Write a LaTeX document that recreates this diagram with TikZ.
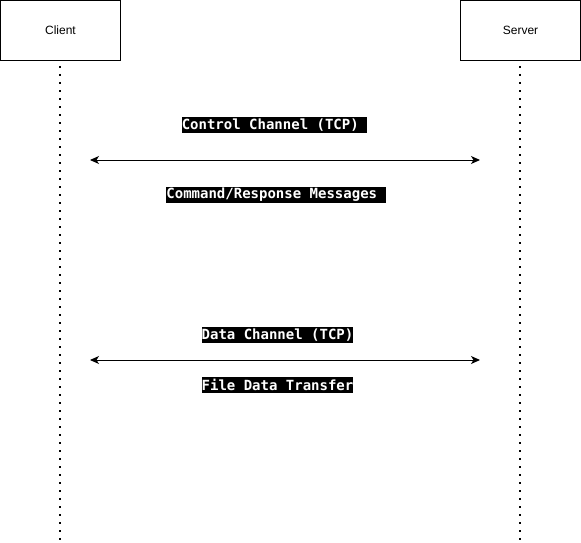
\documentclass[tikz,border=0pt]{standalone}
\usepackage{fontspec}
\setmonofont{DejaVu Sans Mono}
\setsansfont{Liberation Sans}
\usetikzlibrary{arrows.meta}

\tikzset{
  actor/.style={draw, line width=1pt, minimum width=120pt, minimum height=60pt,
    inner sep=0pt, font=\sffamily\fontsize{12}{14}\selectfont},
  lifeline/.style={line width=1.5pt, dash pattern=on 2pt off 6pt},
  msg/.style={line width=1pt, {Stealth[length=9pt,width=8pt,inset=2.5pt]}-{Stealth[length=9pt,width=8pt,inset=2.5pt]}},
  chanlabel/.style={fill=black, text=white, inner sep=0pt, minimum height=16pt,
    font=\ttfamily\bfseries\fontsize{14}{16}\selectfont}
}

\begin{document}
\begin{tikzpicture}[x=1pt,y=-1pt]

\useasboundingbox (0,0) rectangle (581,543);

\node [actor] (client) at (60.5,30.5) {Client};
\node [actor] (server) at (520.5,30.5) {Server};

% lifelines
\coordinate (clienttop) at (60,66);
\coordinate (clientbot) at (60,543);
\coordinate (servertop) at (520,66);
\coordinate (serverbot) at (520,543);
\draw [lifeline] (clienttop) -- (clientbot);
\draw [lifeline] (servertop) -- (serverbot);

% control channel
\coordinate (ctrlleft) at (90,160);
\coordinate (ctrlright) at (480,160);
\draw [msg] (ctrlleft) -- (ctrlright);
\node [chanlabel] (ctrltop) at (274.5,125) {Control Channel (TCP)\phantom{x}};
\node [chanlabel] (ctrlbot) at (276,195) {Command/Response Messages\phantom{x}};

% data channel
\coordinate (dataleft) at (90,360);
\coordinate (dataright) at (480,360);
\draw [msg] (dataleft) -- (dataright);
\node [chanlabel] (datatop) at (277.5,335) {Data Channel (TCP)};
\node [chanlabel] (databot) at (277.5,385) {File Data Transfer};

\end{tikzpicture}
\end{document}
